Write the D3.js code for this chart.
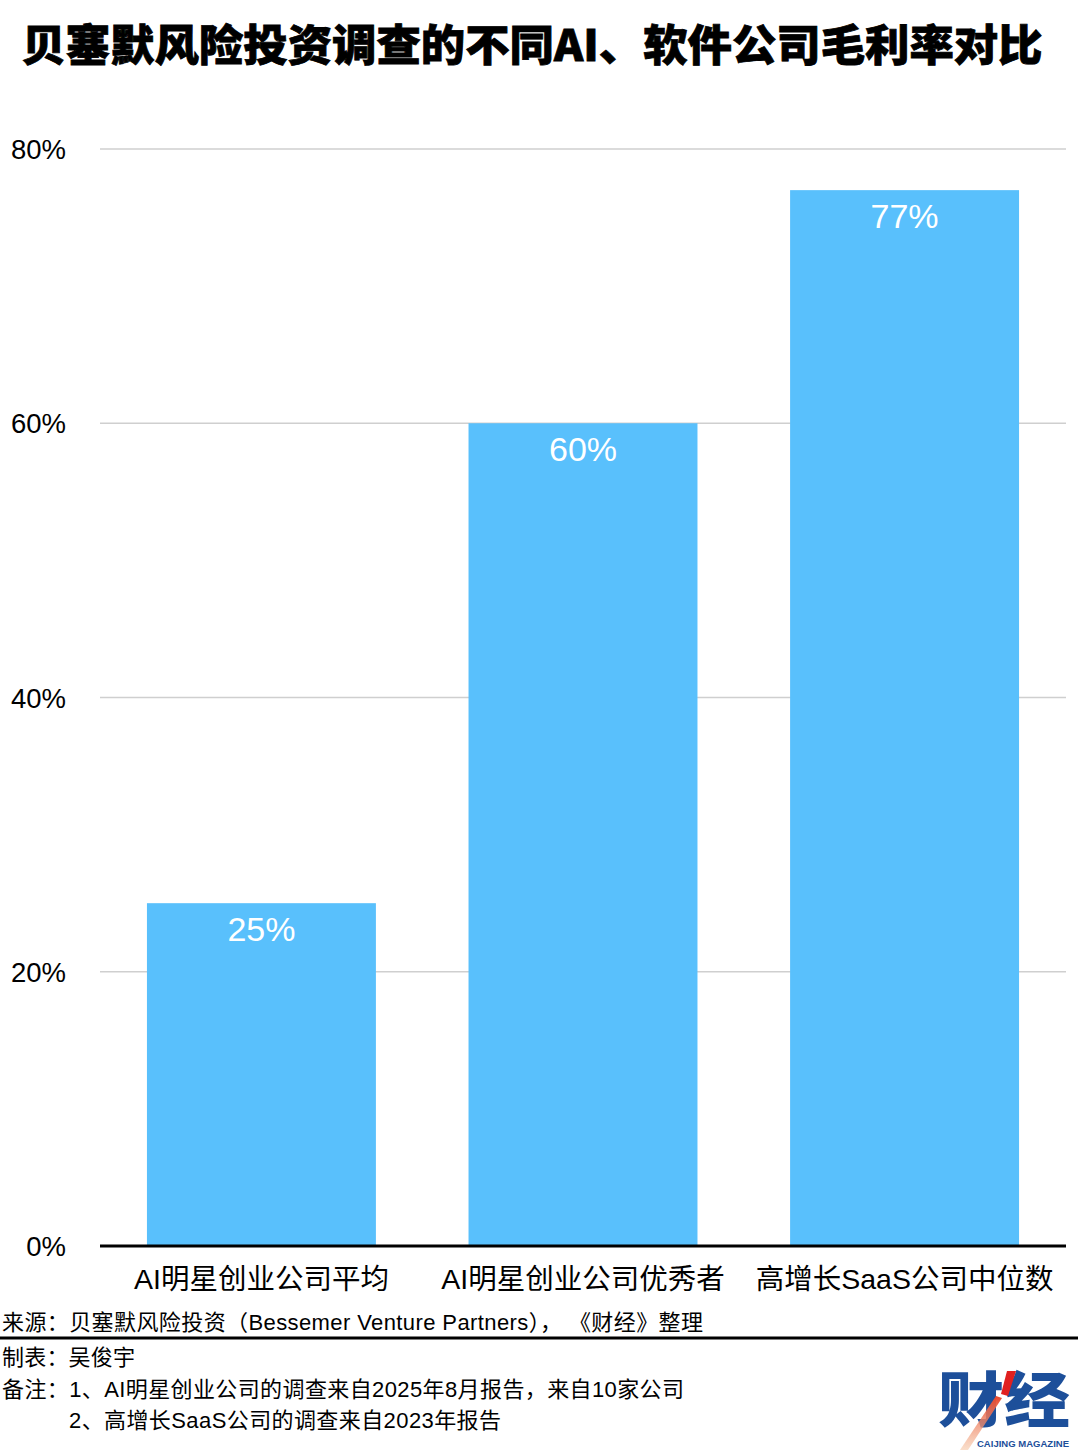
<!DOCTYPE html>
<html>
<head>
<meta charset="utf-8">
<script src="https://cdn.jsdelivr.net/npm/d3@7"></script>
<style>
  html, body { margin: 0; padding: 0; background: #fff; }
  svg { display: block; }
  text { font-family: "Liberation Sans", "Noto Sans CJK SC", sans-serif; }
</style>
</head>
<body>
<svg id="chart" width="1080" height="1450"></svg>
<script>
const title = "贝塞默风险投资调查的不同AI、软件公司毛利率对比";
const categories = ["AI明星创业公司平均", "AI明星创业公司优秀者", "高增长SaaS公司中位数"];
const values = [25, 60, 77];
const yTicks = [0, 20, 40, 60, 80];
const sourceText = "来源：贝塞默风险投资（Bessemer Venture Partners）， 《财经》整理";
const makerText = "制表：吴俊宇";
const notes = ["备注：1、AI明星创业公司的调查来自2025年8月报告，来自10家公司", "2、高增长SaaS公司的调查来自2023年报告"];

(function () {
const svg = d3.select("#chart");
const plotLeft = 100, plotRight = 1066, plotTop = 149, plotBottom = 1246;

const x = d3.scaleBand().domain(categories).range([plotLeft, plotRight]).paddingInner(0.288).paddingOuter(0.146);
const y = d3.scaleLinear().domain([0, 80]).range([plotBottom, plotTop]);

// title
svg.append("text").attr("x", 532).attr("y", 61).attr("text-anchor", "middle")
  .attr("font-size", 43).attr("font-weight", 900).attr("fill", "#000")
  .attr("stroke", "#000").attr("stroke-width", 0.8)
  .style("font-family", "'Noto Sans CJK SC', 'Liberation Sans', sans-serif")
  .attr("textLength", 1021).attr("lengthAdjust", "spacingAndGlyphs")
  .text(title);

// gridlines
svg.append("g").selectAll("line").data(yTicks.filter(d => d > 0)).join("line")
  .attr("x1", plotLeft).attr("x2", plotRight)
  .attr("y1", d => y(d)).attr("y2", d => y(d))
  .attr("stroke", "#cfcfcf").attr("stroke-width", 1.5);

// y axis labels
svg.append("g").selectAll("text").data(yTicks).join("text")
  .attr("x", 66).attr("y", d => y(d) + 10).attr("text-anchor", "end")
  .attr("font-size", 27.5).attr("fill", "#000")
  .text(d => d + "%");

// bars
svg.append("g").selectAll("rect").data(values).join("rect")
  .attr("x", (d, i) => x(categories[i])).attr("width", x.bandwidth())
  .attr("y", d => y(d)).attr("height", d => y(0) - y(d))
  .attr("fill", "#59c0fc");

// value labels
svg.append("g").selectAll("text").data(values).join("text")
  .attr("x", (d, i) => x(categories[i]) + x.bandwidth() / 2)
  .attr("y", d => y(d) + 38).attr("text-anchor", "middle")
  .attr("font-size", 34).attr("fill", "#fff")
  .text(d => d + "%");

// baseline axis
svg.append("line").attr("x1", plotLeft).attr("x2", plotRight).attr("y1", y(0)).attr("y2", y(0))
  .attr("stroke", "#000").attr("stroke-width", 3);

// category labels
svg.append("g").selectAll("text").data(categories).join("text")
  .attr("x", d => x(d) + x.bandwidth() / 2).attr("y", 1289).attr("text-anchor", "middle")
  .attr("font-size", 28.5).attr("fill", "#000")
  .text(d => d);

// footer
svg.append("text").attr("x", 2).attr("y", 1330).attr("font-size", 22).attr("fill", "#000")
  .attr("textLength", 701).attr("lengthAdjust", "spacing").text(sourceText);
svg.append("line").attr("x1", 0).attr("x2", 1078).attr("y1", 1338).attr("y2", 1338)
  .attr("stroke", "#000").attr("stroke-width", 3);
svg.append("text").attr("x", 2).attr("y", 1365).attr("font-size", 22).attr("fill", "#000")
  .attr("textLength", 133).attr("lengthAdjust", "spacing").text(makerText);
svg.append("text").attr("x", 2).attr("y", 1397).attr("font-size", 22).attr("fill", "#000")
  .attr("textLength", 682).attr("lengthAdjust", "spacing").text(notes[0]);
svg.append("text").attr("x", 69).attr("y", 1428).attr("font-size", 22).attr("fill", "#000")
  .attr("textLength", 432).attr("lengthAdjust", "spacing").text(notes[1]);

// logo
const defs = svg.append("defs");
const grad = defs.append("linearGradient").attr("id", "slash").attr("x1", "0").attr("y1", "0").attr("x2", "0").attr("y2", "1");
grad.append("stop").attr("offset", "0%").attr("stop-color", "#e8462a");
grad.append("stop").attr("offset", "100%").attr("stop-color", "#f6c9a8").attr("stop-opacity", 0.6);
const logo = svg.append("g");
logo.append("text").attr("x", 1004).attr("y", 1422).attr("text-anchor", "middle")
  .attr("font-size", 60).attr("font-weight", 900).attr("fill", "#1d4f9a")
  .style("font-family", "'Noto Sans CJK SC', sans-serif")
  .attr("textLength", 132).attr("lengthAdjust", "spacingAndGlyphs")
  .text("财经");
logo.append("path").attr("d", "M996,1396 L1002,1398 L968,1450 L960,1450 Z").attr("fill", "url(#slash)");
logo.append("path").attr("d", "M1007,1371 L1016,1371 L1008,1396 L1001,1394 Z").attr("fill", "#e02020");
logo.append("text").attr("x", 977).attr("y", 1447).attr("font-size", 9.5).attr("font-weight", 700)
  .attr("fill", "#1d4f9a").attr("textLength", 92).attr("lengthAdjust", "spacingAndGlyphs")
  .text("CAIJING MAGAZINE");
})();
</script>
</body>
</html>
